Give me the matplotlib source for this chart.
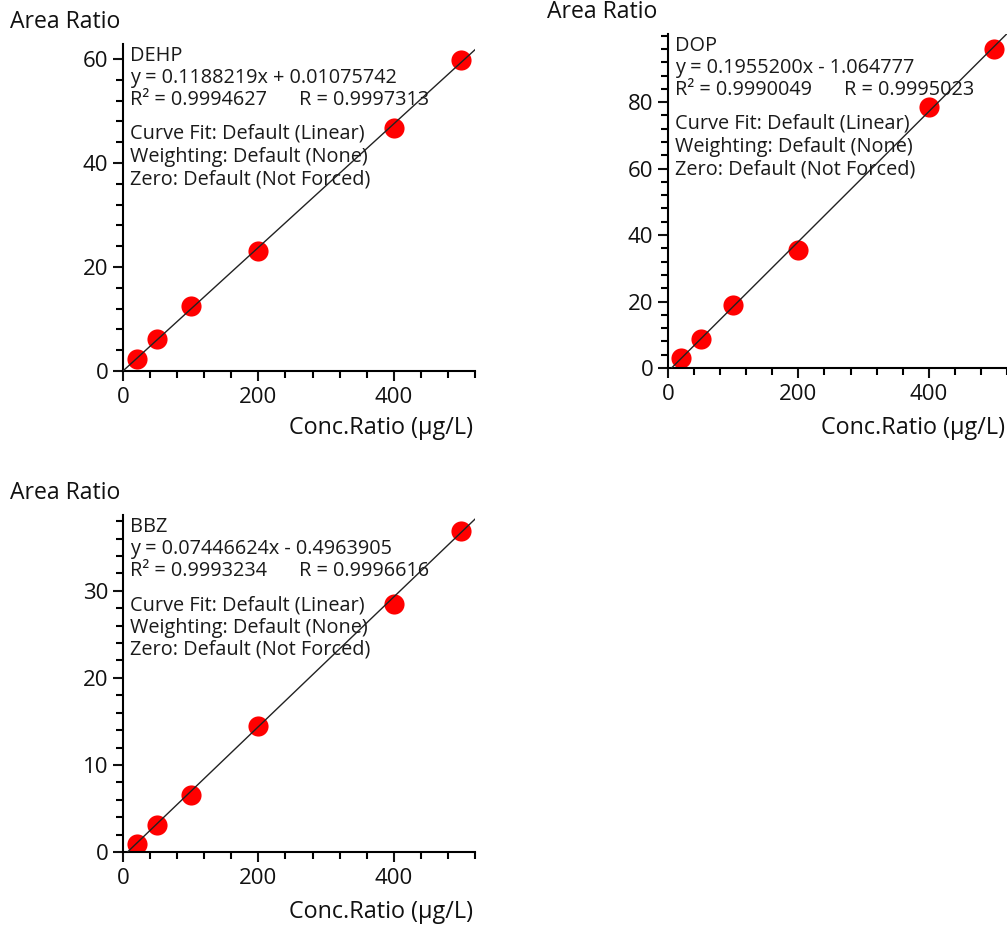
import numpy as np
import matplotlib
matplotlib.use("Agg")
import matplotlib.pyplot as plt
from matplotlib.ticker import MultipleLocator, FixedLocator

plt.rcParams['font.family'] = ['Open Sans', 'DejaVu Sans']

# Konzentrationen (µg/L) der Kalibrierpunkte
conc = [20, 50, 100, 200, 400, 500]

# Flaechenverhaeltnisse
names = ["DEHP", "DOP", "BBZ"]
area_dehp = [2.3, 6.1, 12.5, 23.1, 46.8, 59.8]
area_dop = [3.0, 8.6, 18.9, 35.6, 78.4, 96.0]
area_bbz = [0.96, 3.07, 6.52, 14.5, 28.5, 36.9]
areas = [area_dehp, area_dop, area_bbz]

# Regressionsparameter
slopes = [0.1188219, 0.1955200, 0.07446624]
intercepts = [0.01075742, -1.064777, -0.4963905]
eq_texts = ["y = 0.1188219x + 0.01075742", "y = 0.1955200x - 1.064777", "y = 0.07446624x - 0.4963905"]
r2_texts = ["R\u00b2 = 0.9994627", "R\u00b2 = 0.9990049", "R\u00b2 = 0.9993234"]
r_texts = ["R = 0.9997313", "R = 0.9995023", "R = 0.9996616"]
ymax = [62.9, 100.5, 38.7]
yticks = [[0, 20, 40, 60], [0, 20, 40, 60, 80], [0, 10, 20, 30]]
yminor = [4, 4, 2]

fig = plt.figure(figsize=(10.07, 9.27), dpi=100)
W, H = 1007, 927
# Achsen in Pixeln: links, rechts, unten, oben
boxes = [(123, 475, 371, 44), (668, 1007, 368, 34), (123, 475, 852, 515)]
ylab_pos = [(10, 22), (547, 12), (10, 493)]
xlab_pos = [(473, 428), (1005, 428), (473, 912)]

for i in range(3):
    l, r, b, t = boxes[i]
    ax = fig.add_axes([l / W, 1 - b / H, (r - l) / W, (b - t) / H])
    ax.plot(conc, areas[i], 'o', color='#ff0000', markersize=14.5, markeredgewidth=0, zorder=2)
    xs = np.array([0, 520])
    ax.plot(xs, slopes[i] * xs + intercepts[i], color='#222222', linewidth=1.0, zorder=3)
    ax.set_xlim(0, 520)
    ax.set_ylim(0, ymax[i])
    for s in ['top', 'right']:
        ax.spines[s].set_visible(False)
    for s in ['left', 'bottom']:
        ax.spines[s].set_linewidth(1.5)
    ax.xaxis.set_major_locator(MultipleLocator(200))
    ax.xaxis.set_minor_locator(MultipleLocator(40))
    ax.yaxis.set_major_locator(FixedLocator(yticks[i]))
    ax.yaxis.set_minor_locator(MultipleLocator(yminor[i]))
    ax.tick_params(which='major', direction='out', length=7.5, width=1.5, labelsize=16, pad=3, colors='#111111')
    ax.tick_params(which='minor', direction='out', length=5, width=1.5)
    ax.tick_params(axis='x', which='major', pad=4)

    txt = dict(xycoords='axes fraction', textcoords='offset pixels', va='center', ha='left',
               fontsize=14.3, color='#1a1a1a')
    ax.annotate(names[i], (0, 1), xytext=(7, -12), **txt)
    ax.annotate(eq_texts[i], (0, 1), xytext=(7, -34), **txt)
    ax.annotate(r2_texts[i], (0, 1), xytext=(7, -56), **txt)
    ax.annotate(r_texts[i], (0, 1), xytext=(176, -56), **txt)
    ax.annotate("Curve Fit: Default (Linear)", (0, 1), xytext=(7, -90), **txt)
    ax.annotate("Weighting: Default (None)", (0, 1), xytext=(7, -113), **txt)
    ax.annotate("Zero: Default (Not Forced)", (0, 1), xytext=(7, -135), **txt)

    fig.text(ylab_pos[i][0] / W, 1 - ylab_pos[i][1] / H, "Area Ratio", ha='left', va='center',
             fontsize=16.6, color='#111111')
    fig.text(xlab_pos[i][0] / W, 1 - xlab_pos[i][1] / H, "Conc.Ratio (\u00b5g/L)", ha='right', va='center',
             fontsize=16.8, color='#111111')

fig.savefig("out.png", dpi=100)
